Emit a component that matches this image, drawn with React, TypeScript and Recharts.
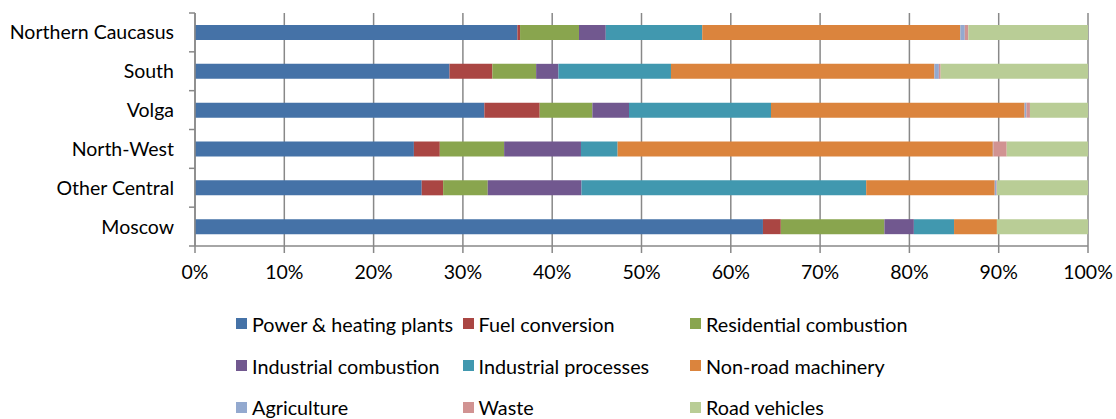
import { BarChart, Bar, XAxis, YAxis, CartesianGrid } from 'recharts';

const regions = ['Northern Caucasus', 'South', 'Volga', 'North-West', 'Other Central', 'Moscow'];

// shares per region, in the same order as `regions` (percent)
const powerHeating = [36.1, 28.5, 32.4, 24.5, 25.4, 63.6];
const fuelConversion = [0.3, 4.8, 6.2, 2.9, 2.4, 2.0];
const residential = [6.6, 4.9, 5.9, 7.2, 5.0, 11.6];
const industrialCombustion = [3.0, 2.5, 4.1, 8.6, 10.5, 3.3];
const industrialProcesses = [10.8, 12.6, 15.9, 4.1, 31.9, 4.5];
const nonRoad = [28.9, 29.5, 28.4, 42.0, 14.4, 4.8];
const agriculture = [0.5, 0.5, 0.2, 0.05, 0.2, 0];
const waste = [0.4, 0.2, 0.4, 1.5, 0.05, 0];
const roadVehicles = [13.4, 16.5, 6.5, 9.1, 10.2, 10.2];

const xTicks = [0, 0.1, 0.2, 0.3, 0.4, 0.5, 0.6, 0.7, 0.8, 0.9, 1];

const series = [
  { key: 'power', name: 'Power & heating plants', values: powerHeating, color: '#4572A7' },
  { key: 'fuel', name: 'Fuel conversion', values: fuelConversion, color: '#AA4643' },
  { key: 'residential', name: 'Residential combustion', values: residential, color: '#89A54E' },
  { key: 'indComb', name: 'Industrial combustion', values: industrialCombustion, color: '#71588F' },
  { key: 'indProc', name: 'Industrial processes', values: industrialProcesses, color: '#4198AF' },
  { key: 'nonRoad', name: 'Non-road machinery', values: nonRoad, color: '#DB843D' },
  { key: 'agri', name: 'Agriculture', values: agriculture, color: '#93A9CF' },
  { key: 'waste', name: 'Waste', values: waste, color: '#D19392' },
  { key: 'road', name: 'Road vehicles', values: roadVehicles, color: '#B9CD96' },
];

const data = regions.map((region, i) => {
  const row: Record<string, string | number> = { region };
  series.forEach((s) => {
    row[s.key] = s.values[i];
  });
  return row;
});

const W = 1116;
const H = 419;
const PLOT_LEFT = 195;
const PLOT_TOP = 13;
const PLOT_BOTTOM = 246;
const BAND = (PLOT_BOTTOM - PLOT_TOP) / regions.length;
const AXIS_GREY = '#888888';
const FONT = 'Lato, "Open Sans", sans-serif';

function RegionTick(props: any) {
  const { x, y, payload, index } = props;
  const top = y - BAND / 2;
  return (
    <g>
      <line x1={PLOT_LEFT - 6} x2={PLOT_LEFT} y1={top} y2={top} stroke={AXIS_GREY} strokeWidth={1.5} />
      {index === regions.length - 1 && (
        <line x1={PLOT_LEFT - 6} x2={PLOT_LEFT} y1={top + BAND} y2={top + BAND} stroke={AXIS_GREY} strokeWidth={1.5} />
      )}
      <text x={x} y={y} dy="0.36em" textAnchor="end" fill="#000" fontSize={19.5} fontFamily={FONT}>
        {payload.value}
      </text>
    </g>
  );
}

// legend laid out in three fixed columns
const legendCols = [236, 462.5, 690];
const legendRows = [323.5, 365.5, 407];

function ChartLegend() {
  return (
    <>
      {series.map((s, i) => {
        const left = legendCols[i % 3];
        const cy = legendRows[Math.floor(i / 3)];
        return (
          <div key={s.key} style={{ position: 'absolute', left, top: cy - 12, height: 24, display: 'flex', alignItems: 'center' }}>
            <span style={{ width: 11, height: 11, background: s.color, display: 'inline-block' }} />
            <span style={{ marginLeft: 5, fontFamily: FONT, fontSize: 19.8, color: '#000', whiteSpace: 'nowrap' }}>{s.name}</span>
          </div>
        );
      })}
    </>
  );
}

export default function App() {
  return (
    <div style={{ position: 'absolute', left: 0, top: 0, width: W, height: H, background: '#fff' }}>
      <BarChart
        width={W}
        height={H}
        data={data}
        layout="vertical"
        stackOffset="expand"
        barSize={15}
        margin={{ top: PLOT_TOP, right: 28, left: 0, bottom: H - PLOT_BOTTOM - 40 }}
      >
        <CartesianGrid horizontal={false} stroke={AXIS_GREY} strokeWidth={1.5} />
        <XAxis
          type="number"
          domain={[0, 1]}
          ticks={xTicks}
          height={40}
          tickFormatter={(v: number) => `${Math.round(v * 100)}%`}
          tick={{ fill: '#000', fontSize: 19.5, fontFamily: FONT }}
          tickSize={7}
          tickMargin={12}
          axisLine={{ stroke: AXIS_GREY, strokeWidth: 1.5 }}
          tickLine={{ stroke: AXIS_GREY, strokeWidth: 1.5 }}
        />
        <YAxis
          type="category"
          dataKey="region"
          width={PLOT_LEFT}
          tick={<RegionTick />}
          tickSize={6}
          tickMargin={15}
          tickLine={false}
          axisLine={{ stroke: AXIS_GREY, strokeWidth: 1.5 }}
          interval={0}
        />
        {series.map((s) => (
          <Bar key={s.key} dataKey={s.key} name={s.name} stackId="a" fill={s.color} isAnimationActive={false} />
        ))}
      </BarChart>
      <ChartLegend />
    </div>
  );
}
